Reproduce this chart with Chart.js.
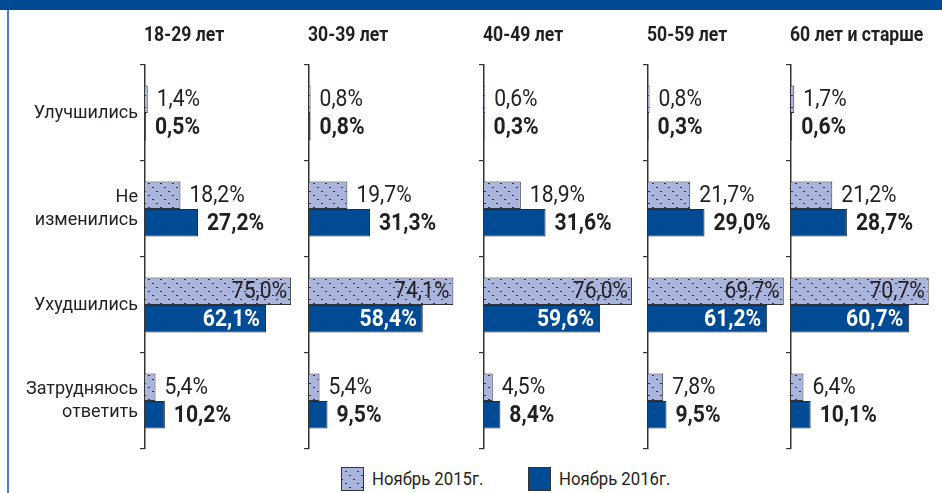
<!DOCTYPE html>
<html>
<head>
<meta charset="utf-8">
<script src="https://cdn.jsdelivr.net/npm/chart.js@4"></script>
<style>
  html, body { margin: 0; padding: 0; background: #fff; overflow: hidden; }
  body { width: 942px; height: 493px; position: relative; font-family: "Liberation Sans Narrow", "Roboto", sans-serif; color: #231f20; }
  #topbar { position: absolute; left: 0; top: 0; width: 942px; height: 10px; background: #004b93; }
  #leftline { position: absolute; left: 7px; top: 10px; width: 2px; height: 483px; background: #4a7cc0; }
  canvas { position: absolute; }
  .ptitle { position: absolute; top: 22px; font-weight: bold; font-size: 21px; white-space: nowrap; z-index: 2;
            transform: scaleX(0.84); transform-origin: left center; }
  #legend { position: absolute; top: 467px; left: 341px; font-size: 19px; white-space: nowrap; }
  .li { position: absolute; top: 0; height: 24px; line-height: 24px; }
  .li canvas { position: absolute; left: 0; top: 0; }
  .li span { position: absolute; left: 31px; top: 0; transform: scaleX(0.88); transform-origin: left center; }
</style>
</head>
<body>
<div id="topbar"></div>
<div id="leftline"></div>
<div id="legend">
  <div class="li" style="left:0"><canvas id="sw1" width="23" height="24"></canvas><span>Ноябрь 2015г.</span></div>
  <div class="li" style="left:187px"><canvas id="sw2" width="23" height="24"></canvas><span>Ноябрь 2016г.</span></div>
</div>
<script>
// data
const categories = [['Улучшились'], ['Не', 'изменились'], ['Ухудшились'], ['Затрудняюсь', 'ответить']];
const groups = ['18-29 лет', '30-39 лет', '40-49 лет', '50-59 лет', '60 лет и старше'];
const seriesNames = ['Ноябрь 2015г.', 'Ноябрь 2016г.'];
const nov2015 = [
    [1.4, 18.2, 75.0, 5.4],
    [0.8, 19.7, 74.1, 5.4],
    [0.6, 18.9, 76.0, 4.5],
    [0.8, 21.7, 69.7, 7.8],
    [1.7, 21.2, 70.7, 6.4]
];
const nov2016 = [
    [0.5, 27.2, 62.1, 10.2],
    [0.8, 31.3, 58.4, 9.5],
    [0.3, 31.6, 59.6, 8.4],
    [0.3, 29.0, 61.2, 9.5],
    [0.6, 28.7, 60.7, 10.1]
];

const axisX = [145, 309, 484, 648, 791];
const areaW = 150, padTB = 30, padR = 60, areaTop = 65, areaH = 384;
const FONT = '"Liberation Sans Narrow", "Roboto", sans-serif';
const darkBlue = '#004b93';
const textColor = '#231f20';

function makeHatch() {
    const c = document.createElement('canvas');
    c.width = 12; c.height = 12;
    const g = c.getContext('2d');
    g.fillStyle = '#a9b5dd';
    g.fillRect(0, 0, 12, 12);
    g.fillStyle = '#2e3245';
    for (let i = 0; i < 12; i += 4) g.fillRect(i, i, 2, 1);
    return g.createPattern(c, 'repeat');
}

// legend swatches
function swatch(id, fill) {
    const g = document.getElementById(id).getContext('2d');
    g.fillStyle = fill;
    g.fillRect(0, 0, 23, 24);
    g.strokeStyle = '#333';
    g.lineWidth = 1;
    g.strokeRect(0.5, 0.5, 22, 23);
}
const hatch = makeHatch();
swatch('sw1', hatch);
swatch('sw2', darkBlue);

const valueLabels = {
    id: 'valueLabels',
    afterDatasetsDraw(chart) {
        const ctx = chart.ctx;
        chart.data.datasets.forEach((ds, di) => {
            const bold = di === 1;
            chart.getDatasetMeta(di).data.forEach((bar, i) => {
                const v = ds.data[i];
                const txt = v.toFixed(1).replace('.', ',') + '%';
                const inside = v > 50;
                ctx.save();
                ctx.font = (bold ? 'bold ' : '') + '24px ' + FONT;
                ctx.textBaseline = 'middle';
                ctx.fillStyle = inside && bold ? '#fff' : textColor;
                ctx.textAlign = inside ? 'right' : 'left';
                const x = inside ? bar.x - (bold ? 6 : 4) : bar.x + 9;
                ctx.translate(x, bar.y + 1);
                ctx.scale(0.88, 1);
                ctx.fillText(txt, 0, 0);
                ctx.restore();
            });
        });
    }
};

groups.forEach((name, gi) => {
    const first = gi === 0;
    const yW = first ? axisX[0] : 12;
    const left = axisX[gi] - yW;

    const t = document.createElement('div');
    t.className = 'ptitle';
    t.style.left = (axisX[gi] - 1) + 'px';
    t.textContent = name;
    document.body.appendChild(t);

    const cv = document.createElement('canvas');
    cv.width = yW + areaW + padR;
    cv.height = areaH + padTB * 2;
    cv.style.left = left + 'px';
    cv.style.top = (areaTop - padTB) + 'px';
    document.body.appendChild(cv);

    new Chart(cv.getContext('2d'), {
        type: 'bar',
        data: {
            labels: categories,
            datasets: [
                {
                    label: seriesNames[0],
                    data: nov2015[gi],
                    backgroundColor: hatch,
                    borderColor: '#333',
                    borderWidth: 1
                },
                {
                    label: seriesNames[1],
                    data: nov2016[gi],
                    backgroundColor: darkBlue,
                    borderColor: '#2a2a2a',
                    borderWidth: 1
                }
            ]
        },
        options: {
            indexAxis: 'y',
            responsive: false,
            animation: false,
            events: [],
            layout: { padding: { top: padTB, bottom: padTB, left: 0, right: padR } },
            datasets: {
                bar: { categoryPercentage: 0.573, barPercentage: 1 }
            },
            plugins: {
                legend: { display: false },
                tooltip: { enabled: false }
            },
            scales: {
                x: { display: false, min: 0, max: 77 },
                y: {
                    afterFit: s => { s.width = yW; },
                    border: { display: true, color: '#333', width: 1.5 },
                    grid: { drawOnChartArea: false, drawTicks: true, tickLength: 5, color: '#333', lineWidth: 1.2 },
                    ticks: {
                        display: first,
                        color: textColor,
                        padding: 2,
                        font: { family: FONT, size: 18, lineHeight: 1.3 }
                    }
                }
            }
        },
        plugins: [valueLabels]
    });
});
</script>
</body>
</html>
